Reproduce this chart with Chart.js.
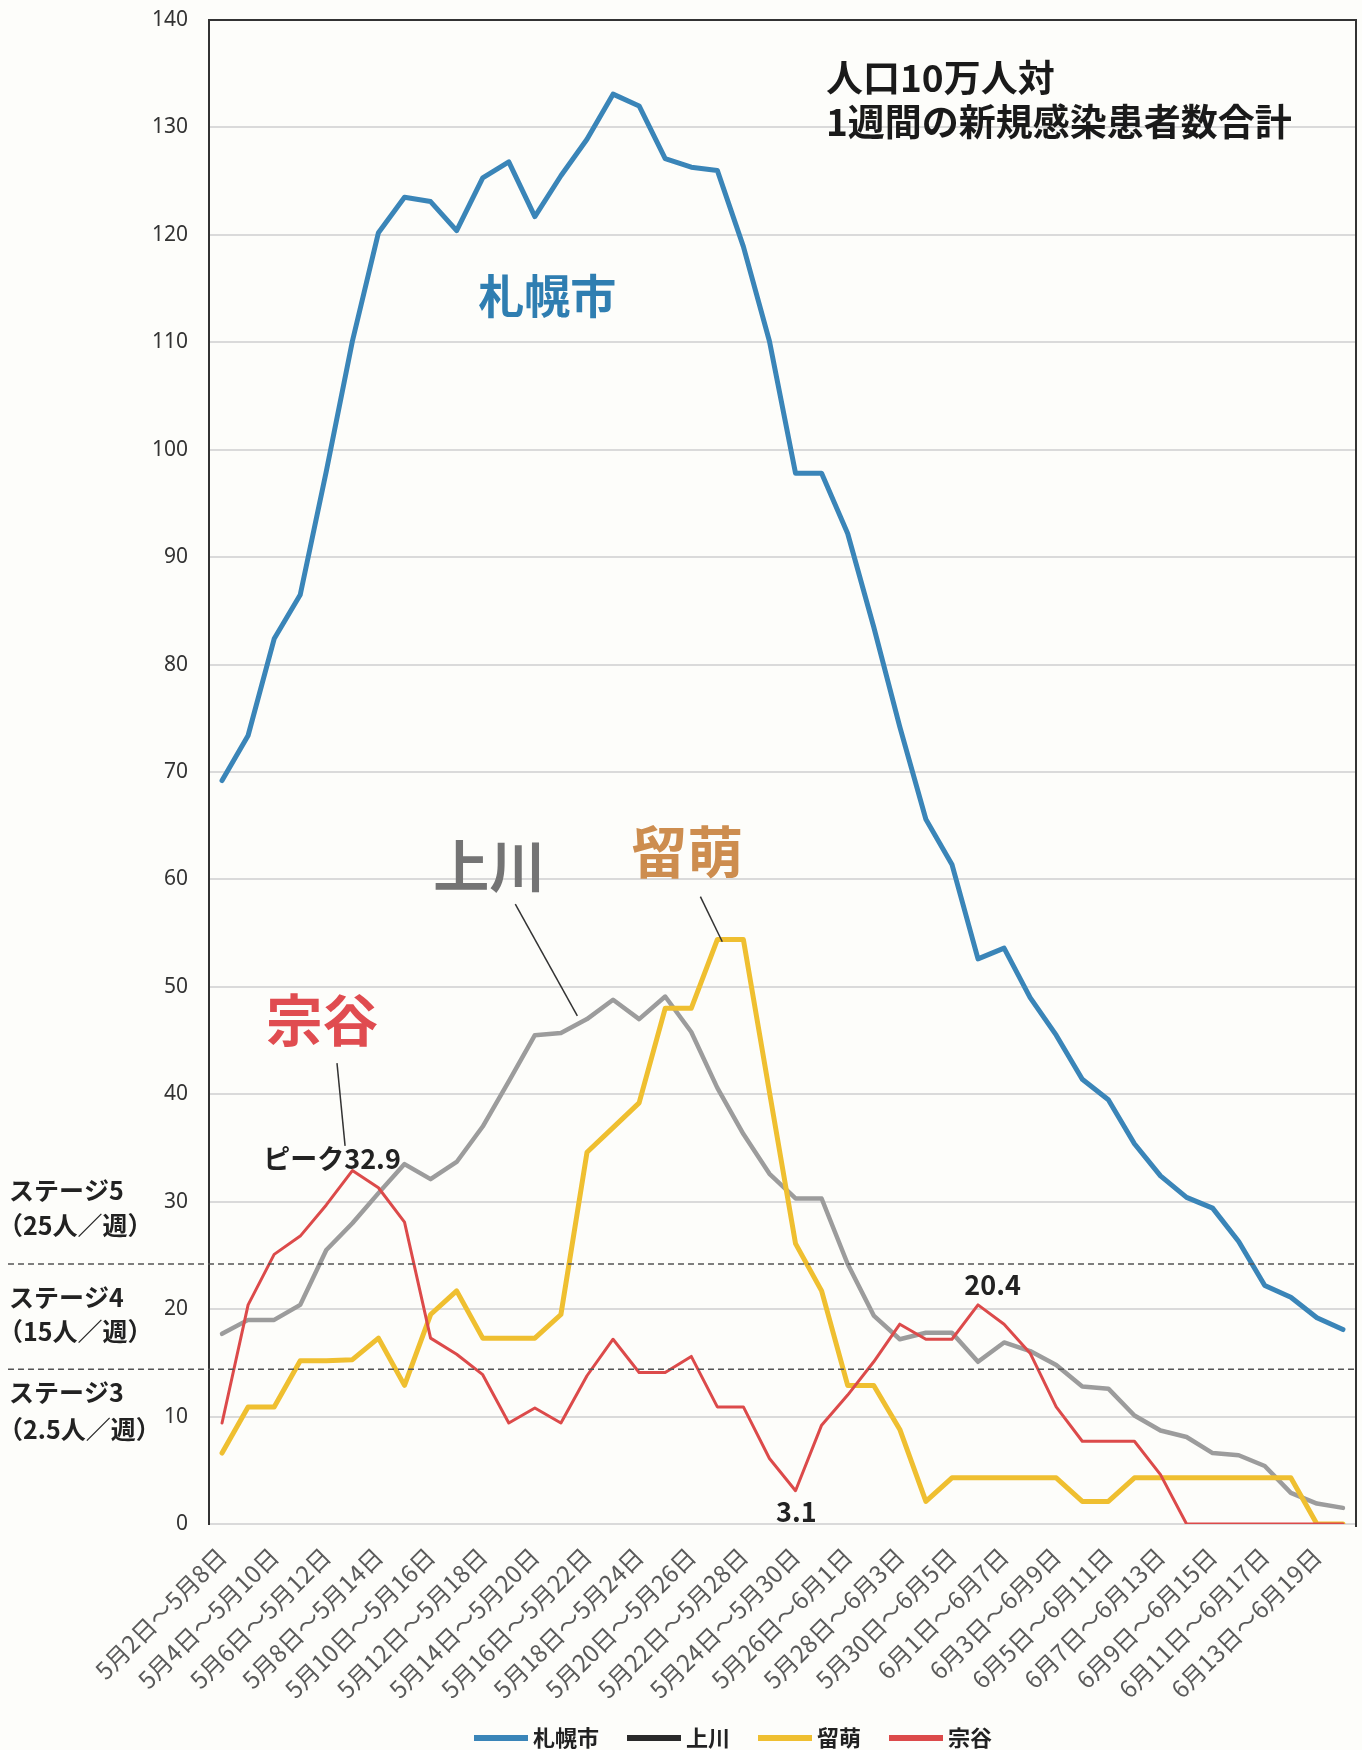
<!DOCTYPE html>
<html lang="ja">
<head>
<meta charset="utf-8">
<title>人口10万人対 1週間の新規感染患者数合計</title>
<script src="https://cdn.jsdelivr.net/npm/chart.js@4/dist/chart.umd.min.js"></script>
<style>
  html, body { margin: 0; padding: 0; background: #fdfdfa; }
  #wrap { width: 1362px; height: 1750px; }
</style>
</head>
<body>
<div id="wrap"><canvas id="chart" width="1362" height="1750"></canvas></div>
<script>
// weekly windows (one per day)
const categories = [
    '5月2日～5月8日', '5月3日～5月9日', '5月4日～5月10日', '5月5日～5月11日',
    '5月6日～5月12日', '5月7日～5月13日', '5月8日～5月14日', '5月9日～5月15日',
    '5月10日～5月16日', '5月11日～5月17日', '5月12日～5月18日', '5月13日～5月19日',
    '5月14日～5月20日', '5月15日～5月21日', '5月16日～5月22日', '5月17日～5月23日',
    '5月18日～5月24日', '5月19日～5月25日', '5月20日～5月26日', '5月21日～5月27日',
    '5月22日～5月28日', '5月23日～5月29日', '5月24日～5月30日', '5月25日～5月31日',
    '5月26日～6月1日', '5月27日～6月2日', '5月28日～6月3日', '5月29日～6月4日',
    '5月30日～6月5日', '5月31日～6月6日', '6月1日～6月7日', '6月2日～6月8日',
    '6月3日～6月9日', '6月4日～6月10日', '6月5日～6月11日', '6月6日～6月12日',
    '6月7日～6月13日', '6月8日～6月14日', '6月9日～6月15日', '6月10日～6月16日',
    '6月11日～6月17日', '6月12日～6月18日', '6月13日～6月19日', '6月14日～6月20日'
];

const sapporo = [
    69.2, 73.4, 82.4, 86.5, 98.0, 110.1, 120.2, 123.5, 123.1, 120.4,
    125.3, 126.8, 121.7, 125.5, 128.9, 133.1, 132.0, 127.1, 126.3, 126.0,
    118.9, 110.1, 97.8, 97.8, 92.2, 83.5, 74.2, 65.6, 61.4, 52.6,
    53.6, 49.0, 45.5, 41.4, 39.5, 35.4, 32.4, 30.4, 29.4, 26.3,
    22.2, 21.1, 19.2, 18.1
];
const kamikawa = [
    17.7, 19.0, 19.0, 20.4, 25.5, 28.0, 30.8, 33.5, 32.1, 33.7,
    37.0, 41.2, 45.5, 45.7, 47.0, 48.8, 47.0, 49.1, 45.8, 40.6,
    36.3, 32.6, 30.3, 30.3, 24.2, 19.4, 17.2, 17.8, 17.8, 15.1,
    16.9, 16.1, 14.8, 12.8, 12.6, 10.1, 8.7, 8.1, 6.6, 6.4,
    5.4, 2.9, 1.9, 1.5
];
const rumoi = [
    6.6, 10.9, 10.9, 15.2, 15.2, 15.3, 17.3, 12.9, 19.5, 21.7,
    17.3, 17.3, 17.3, 19.5, 34.6, 36.9, 39.2, 48.0, 48.0, 54.4,
    54.4, 40.2, 26.1, 21.7, 12.9, 12.9, 8.8, 2.1, 4.3, 4.3,
    4.3, 4.3, 4.3, 2.1, 2.1, 4.3, 4.3, 4.3, 4.3, 4.3,
    4.3, 4.3, 0, 0
];
const soya = [
    9.4, 20.4, 25.1, 26.8, 29.7, 32.9, 31.3, 28.1, 17.3, 15.8,
    13.9, 9.4, 10.8, 9.4, 13.8, 17.2, 14.1, 14.1, 15.6, 10.9,
    10.9, 6.1, 3.1, 9.2, 12.0, 15.1, 18.6, 17.2, 17.2, 20.4,
    18.6, 15.9, 10.9, 7.7, 7.7, 7.7, 4.6, 0, 0, 0,
    0, 0, 0, 0
];

const yTicks = [0, 10, 20, 30, 40, 50, 60, 70, 80, 90, 100, 110, 120, 130, 140];

// stage thresholds as drawn (dashed lines)
const stageLines = [24.2, 14.4];
const stageLabels = [
    ['ステージ5', '（25人／週）'],
    ['ステージ4', '（15人／週）'],
    ['ステージ3', '（2.5人／週）']
];

const titleLines = ['人口10万人対', '1週間の新規感染患者数合計'];

const JP = '"Noto Sans CJK JP", "Noto Sans", sans-serif';

const colors = {
    sapporo: '#3a85b8',
    kamikawa: '#9c9c9c',
    rumoi: '#efbf30',
    soya: '#dc4a4a'
};

// extra drawing: frame, dashed stage lines, labels, legend
const overlay = {
    id: 'overlay',
    beforeDatasetsDraw(chart) {
        const { ctx, chartArea: a } = chart;
        ctx.save();
        ctx.strokeStyle = '#333';
        ctx.lineWidth = 2;
        ctx.beginPath();
        ctx.moveTo(a.left, a.top);
        ctx.lineTo(a.right, a.top);
        ctx.lineTo(a.right, a.bottom + 3);
        ctx.stroke();
        ctx.restore();
    },
    afterDatasetsDraw(chart) {
        const { ctx, chartArea: a, scales: { x, y } } = chart;
        const at = (i, v) => [x.getPixelForValue(0) + i * (x.getPixelForValue(1) - x.getPixelForValue(0)), y.getPixelForValue(v)];
        ctx.save();

        // stage dashed lines
        ctx.strokeStyle = '#555';
        ctx.lineWidth = 1.5;
        ctx.setLineDash([6, 4]);
        stageLines.forEach(v => {
            const py = y.getPixelForValue(v);
            ctx.beginPath();
            ctx.moveTo(8, py);
            ctx.lineTo(a.right, py);
            ctx.stroke();
        });
        ctx.setLineDash([]);

        // stage text on the left
        ctx.fillStyle = '#222';
        ctx.textAlign = 'left';
        ctx.textBaseline = 'middle';
        ctx.font = 'bold 25px ' + JP;
        const stageY = [[31.0, 27.8], [21.1, 17.9], [12.2, 8.8]];
        stageLabels.forEach((pair, k) => {
            ctx.fillText(pair[0], 9, y.getPixelForValue(stageY[k][0]));
            ctx.fillText(pair[1], -2, y.getPixelForValue(stageY[k][1]));
        });

        // title
        ctx.font = 'bold 37px ' + JP;
        ctx.fillStyle = '#1a1a1a';
        titleLines.forEach((t, k) => {
            ctx.fillText(t, 826, a.top + 58 + k * 44);
        });

        // series names
        ctx.textAlign = 'center';
        const name = (txt, i, v, font, color) => {
            const [px, py] = at(i, v);
            ctx.font = font;
            ctx.fillStyle = color;
            ctx.fillText(txt, px, py);
        };
        name('札幌市', 12.48, 114.4, 'bold 46px ' + JP, '#2f7eb1');
        name('上川', 10.25, 61.3, 'bold 56px ' + JP, '#747474');
        name('留萌', 17.85, 62.6, 'bold 56px ' + JP, '#cd8d4f');
        name('宗谷', 3.84, 46.9, 'bold 56px ' + JP, '#e04c50');

        // value labels
        name('ピーク32.9', 4.22, 34.0, 'bold 27px ' + JP, '#222');
        name('3.1', 22.03, 1.1, 'bold 27px ' + JP, '#222');
        name('20.4', 29.56, 22.3, 'bold 27px ' + JP, '#222');

        // leader lines
        ctx.strokeStyle = '#333';
        ctx.lineWidth = 1.5;
        [[11.25, 57.7, 13.63, 47.3], [18.35, 58.4, 19.19, 54.2], [4.41, 42.9, 4.72, 35.2]].forEach(l => {
            const p = at(l[0], l[1]);
            const q = at(l[2], l[3]);
            ctx.beginPath();
            ctx.moveTo(p[0], p[1]);
            ctx.lineTo(q[0], q[1]);
            ctx.stroke();
        });

        // legend (上川 shown with a black key, as in the original)
        const keyColors = [colors.sapporo, '#2a2a2a', colors.rumoi, colors.soya];
        ctx.font = 'bold 22px ' + JP;
        ctx.textAlign = 'left';
        let lx = 474;
        const ly = 1738;
        chart.data.datasets.forEach((ds, k) => {
            ctx.strokeStyle = keyColors[k];
            ctx.lineWidth = 6;
            ctx.beginPath();
            ctx.moveTo(lx, ly);
            ctx.lineTo(lx + 54, ly);
            ctx.stroke();
            ctx.fillStyle = '#222';
            ctx.fillText(ds.label, lx + 59, ly);
            lx += 59 + ctx.measureText(ds.label).width + 28;
        });

        ctx.restore();
    }
};

const ctx = document.getElementById('chart').getContext('2d');
new Chart(ctx, {
    type: 'line',
    data: {
        labels: categories,
        datasets: [
            { label: '札幌市', data: sapporo, borderColor: colors.sapporo, borderWidth: 5, order: 4 },
            { label: '上川', data: kamikawa, borderColor: colors.kamikawa, borderWidth: 4.5, order: 3 },
            { label: '留萌', data: rumoi, borderColor: colors.rumoi, borderWidth: 5, order: 2 },
            { label: '宗谷', data: soya, borderColor: colors.soya, borderWidth: 3, order: 1 }
        ]
    },
    options: {
        responsive: false,
        animation: false,
        devicePixelRatio: 1,
        layout: { padding: { top: 20, right: 6, bottom: 0, left: 0 } },
        elements: {
            point: { radius: 0, hoverRadius: 0 },
            line: { tension: 0, borderJoinStyle: 'round', borderCapStyle: 'round', fill: false }
        },
        plugins: {
            legend: { display: false },
            tooltip: { enabled: false }
        },
        scales: {
            x: {
                offset: true,
                grid: { display: false },
                border: { display: false },
                ticks: {
                    autoSkip: false,
                    minRotation: 45,
                    maxRotation: 45,
                    padding: 10,
                    color: '#5a5a5a',
                    font: { family: JP, size: 24 },
                    callback: (value, index) => index % 2 === 0 ? categories[index] : ''
                },
                afterFit: (scale) => {
                    scale.height = 226;
                    scale.paddingTop = 0;
                    scale.paddingBottom = 0;
                    scale.paddingRight = 0;
                }
            },
            y: {
                min: 0,
                max: 140,
                afterBuildTicks: (scale) => { scale.ticks = yTicks.map(v => ({ value: v })); },
                grid: { color: '#dadada', lineWidth: 2, drawTicks: false },
                border: { display: true, color: '#333', width: 2 },
                ticks: {
                    padding: 21,
                    color: '#333',
                    font: { family: '"Noto Sans", sans-serif', size: 21 }
                },
                afterFit: (scale) => {
                    scale.width = 209;
                    scale.paddingTop = 0;
                    scale.paddingBottom = 0;
                }
            }
        }
    },
    plugins: [overlay]
});
</script>
</body>
</html>
